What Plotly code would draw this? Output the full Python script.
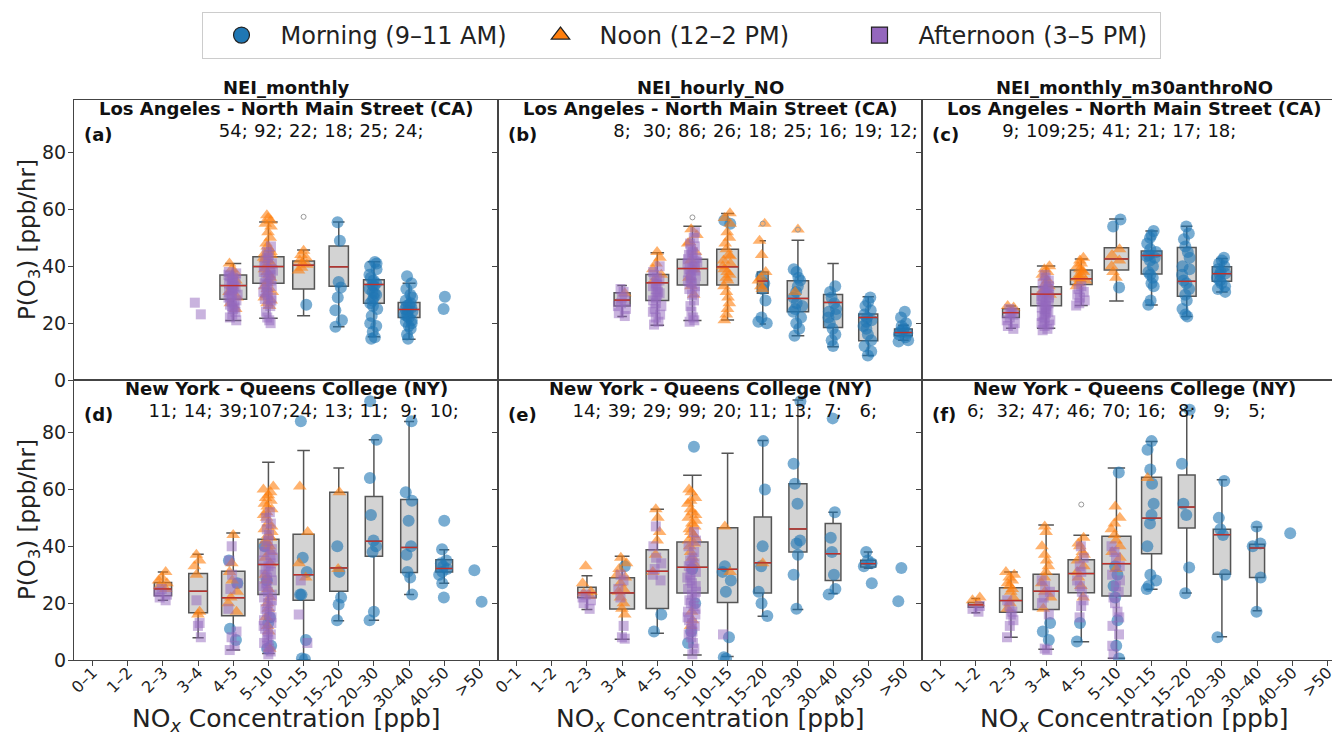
import plotly.graph_objects as go
from plotly.subplots import make_subplots

# ---------------- data ----------------
CATEGORIES = ["0–1", "1–2", "2–3", "3–4", "4–5", "5–10", "10–15", "15–20",
              "20–30", "30–40", "40–50", ">50"]
SCENARIOS = ["NEI_monthly", "NEI_hourly_NO", "NEI_monthly_m30anthroNO"]
SITES = ["Los Angeles - North Main Street (CA)", "New York - Queens College (NY)"]
PANEL_LETTERS = ["(a)", "(b)", "(c)", "(d)", "(e)", "(f)"]
GROUP_NAMES = ["Morning (9–11 AM)", "Noon (12–2 PM)", "Afternoon (3–5 PM)"]
X_TITLE = "NO<sub><i>x</i></sub> Concentration [ppb]"
Y_TITLE = "P(O<sub>3</sub>) [ppb/hr]"
Y_TICKS = [0, 20, 40, 60, 80]

# box statistics: (category, lower whisker, q1, median, q3, upper whisker, n)
BOX_A = [("4–5", 20.9, 28.4, 33.2, 36.9, 41.0, 54), ("5–10", 21.7, 34.0, 39.9, 43.4, 55.6, 92),
         ("10–15", 22.6, 32.0, 40.4, 41.9, 45.7, 22), ("15–20", 18.7, 33.0, 39.8, 47.1, 55.6, 18),
         ("20–30", 15.2, 27.0, 33.6, 35.3, 41.6, 25), ("30–40", 14.3, 22.0, 24.8, 27.3, 34.0, 24)]
BOX_B = [("3–4", 22.3, 26.0, 28.1, 30.7, 33.2, 8), ("4–5", 19.3, 28.0, 34.2, 37.1, 44.8, 30),
         ("5–10", 20.9, 33.4, 39.2, 42.5, 54.1, 86), ("10–15", 21.1, 33.4, 39.8, 46.0, 58.6, 26),
         ("15–20", 19.7, 30.5, 34.8, 38.0, 49.0, 18), ("20–30", 15.6, 24.0, 28.7, 34.9, 49.2, 25),
         ("30–40", 11.7, 18.5, 27.3, 30.1, 41.0, 16), ("40–50", 8.6, 13.8, 22.0, 23.2, 29.3, 19),
         (">50", 14.0, 15.6, 16.7, 17.9, 19.3, 12)]
BOX_C = [("2–3", 18.2, 22.0, 23.7, 25.1, 26.0, 9), ("3–4", 18.2, 26.1, 30.2, 32.8, 40.1, 109),
         ("4–5", 26.2, 33.6, 35.6, 38.7, 42.6, 25), ("5–10", 27.8, 38.7, 42.6, 46.5, 56.6, 41),
         ("10–15", 26.4, 37.3, 43.8, 45.4, 52.4, 21), ("15–20", 22.3, 29.5, 34.7, 46.6, 54.1, 17),
         ("20–30", 31.0, 34.7, 37.4, 39.8, 42.7, 18)]
BOX_D = [("2–3", 21.0, 22.6, 25.0, 27.3, 31.0, 11), ("3–4", 7.8, 16.6, 24.2, 30.4, 37.2, 14),
         ("4–5", 3.5, 15.6, 21.9, 31.2, 44.7, 39), ("5–10", 2.3, 23.0, 33.6, 42.5, 69.6, 107),
         ("10–15", 0.0, 21.0, 30.0, 44.2, 73.7, 24), ("15–20", 13.8, 24.2, 32.4, 59.0, 67.5, 13),
         ("20–30", 14.0, 36.5, 41.8, 57.5, 77.5, 11), ("30–40", 23.0, 30.8, 39.6, 56.5, 83.9, 9),
         ("40–50", 27.0, 31.0, 32.2, 35.3, 38.8, 10)]
BOX_E = [("2–3", 17.8, 21.9, 23.7, 25.6, 29.6, 14), ("3–4", 7.3, 17.9, 23.6, 28.9, 36.5, 39),
         ("4–5", 9.4, 18.1, 31.2, 38.8, 53.0, 29), ("5–10", 1.8, 23.6, 32.6, 41.5, 65.0, 99),
         ("10–15", 1.2, 20.2, 31.9, 46.5, 72.7, 20), ("15–20", 15.4, 23.6, 34.2, 50.3, 77.2, 11),
         ("20–30", 17.8, 38.0, 46.1, 62.0, 91.5, 13), ("30–40", 23.4, 28.0, 37.4, 48.0, 52.0, 7),
         ("40–50", 32.3, 32.7, 33.9, 35.1, 38.0, 6)]
BOX_F = [("1–2", 16.6, 18.6, 19.4, 20.2, 21.6, 6), ("2–3", 8.0, 16.8, 20.9, 25.4, 31.0, 32),
         ("3–4", 3.8, 17.8, 24.2, 30.2, 47.5, 47), ("4–5", 6.4, 23.7, 30.4, 35.3, 43.9, 46),
         ("5–10", 0.6, 22.5, 33.9, 43.5, 67.5, 70), ("10–15", 24.9, 37.4, 49.9, 64.3, 76.9, 16),
         ("15–20", 23.6, 46.4, 53.8, 65.1, 87.7, 8), ("20–30", 8.2, 30.2, 44.1, 46.0, 63.4, 9),
         ("30–40", 17.3, 29.0, 39.4, 40.7, 46.8, 5)]

# individual observations per time-of-day group: (category, values)
MORNING_A = [("10–15", [26.5]),
             ("15–20", [55.5, 49, 34.5, 32.5, 29, 24.5, 21, 18.7]),
             ("20–30", [41.5, 41, 40, 39, 37, 36, 35, 34, 33.5, 33, 32, 31, 30, 29, 28, 27, 26, 25,
                        22.5, 20, 19, 17, 15, 14.5, 30.5]),
             ("30–40", [36.5, 34, 32, 30, 29, 28, 27, 26, 25.5, 25, 24.5, 24, 23, 22, 21, 20.5, 20,
                        19, 18, 14.5, 26.5, 23.5, 22.5, 16]),
             ("40–50", [29.3, 25])]
NOON_A = [("4–5", [41, 39, 37, 35, 33, 31, 29, 27, 25, 38]),
          ("5–10", [58, 57, 56, 55, 54, 52, 50, 48, 47, 46, 45, 44, 43, 42, 41, 40, 39, 38, 37,
                    36, 35, 34, 33, 32, 31, 30, 29, 28, 27, 26, 44.5, 42.5, 40.5]),
          ("10–15", [45.5, 44, 43, 42, 41, 40.5, 39.5, 38.5])]
AFTERNOON_A = [("3–4", [27.2, 23.1]),
               ("4–5", [21, 22, 23, 24, 25, 26, 27, 28, 29, 30, 31, 31.5, 32, 33, 33.5, 34, 34.5,
                        35, 36, 36.5, 37, 38, 29.5, 27.5, 26.5, 25.5, 30.5, 32.5, 35.5, 37.5]),
               ("5–10", [20, 21, 22, 24, 26, 27, 28, 29, 30, 31, 32, 33, 34, 35, 36, 37, 38, 39,
                         40, 41, 42, 43, 44, 45, 47, 30.5, 33.5, 36.5, 38.5, 28.5])]

MORNING_B = [("10–15", [56.2, 55]),
             ("15–20", [36.5, 34, 32, 28, 22, 20, 20.5]),
             ("20–30", [39, 38, 36, 35, 31, 29, 27, 25, 24, 22, 20, 18, 15.6, 33, 26]),
             ("30–40", [33, 31, 29, 27, 25, 23, 22, 20, 18, 16, 14, 12, 24]),
             ("40–50", [29, 27.5, 26, 24.5, 23, 22, 20.5, 18, 16, 14, 12, 10, 8.6, 21, 19]),
             (">50", [24, 22, 20, 19, 18, 17.5, 17, 16.5, 16, 15, 14, 13.5])]
NOON_B = [("3–4", [30.5]),
          ("4–5", [45, 43, 41, 39, 37, 35]),
          ("5–10", [53, 51, 48, 45, 42, 39, 36, 33, 30, 48.5]),
          ("10–15", [58.7, 57, 55, 52, 50, 48, 46, 44, 42, 40, 39, 38, 37, 35, 33, 31, 29, 27,
                     25, 23, 21, 41, 43.5, 36]),
          ("15–20", [55, 49, 44, 38, 36, 35, 33, 32]),
          ("20–30", [52.9, 31])]
AFTERNOON_B = [("3–4", [22.5, 23.5, 25, 26, 27, 28, 29, 31, 32]),
               ("4–5", [19.5, 20.5, 22, 23, 25, 26, 27, 28, 29, 30, 31, 32, 33, 34, 35, 36, 37,
                        38, 40, 24, 30.5, 33.5]),
               ("5–10", [20.5, 21, 22, 24, 26, 28, 30, 31, 32, 33, 34, 35, 36, 37, 38, 39, 40, 41,
                         42, 43, 44, 45, 46, 47, 48, 50, 52, 36.5, 38.5, 41.5, 44.5, 34.5, 39.5,
                         42.5])]

MORNING_C = [("5–10", [56.5, 54, 32.5]),
             ("10–15", [52.4, 51, 50, 48, 46, 45, 44, 43.5, 43, 42, 40, 38, 37, 36, 34, 33, 28,
                        26.5]),
             ("15–20", [54, 51.5, 49.5, 47, 45, 43, 40, 39, 37, 35, 34, 32, 30, 28, 25, 22.3, 23]),
             ("20–30", [43, 42, 41, 40, 39, 38, 37.5, 37, 36, 35, 34, 33, 32, 31])]
NOON_C = [("2–3", [25.5, 26]),
          ("3–4", [40, 39, 38, 37, 36, 35, 34, 33, 32, 31, 30]),
          ("4–5", [43, 42, 41, 40, 39, 38, 37, 36, 35, 34, 33, 38.5, 36.5, 35.5]),
          ("5–10", [46, 44, 42, 40, 38, 36])]
AFTERNOON_C = [("2–3", [18, 19, 20, 21, 22, 23, 23.5, 24, 25]),
               ("3–4", [17.5, 18, 19, 20, 21, 22, 23, 24, 25, 26, 27, 28, 29, 30, 31, 32, 33, 34,
                        35, 36, 37, 20.5, 22.5, 24.5, 26.5, 28.5, 30.5, 32.5, 27.5, 25.5, 29.5,
                        31.5, 19.5, 23.5]),
               ("4–5", [26.2, 27, 28, 29, 30, 31, 32, 33])]

MORNING_D = [("4–5", [35, 27, 11, 7]),
             ("5–10", [40, 28, 15, 13, 5, 4]),
             ("10–15", [84, 36, 31, 23, 23, 7, 0.5, 0.3]),
             ("15–20", [40, 31, 22, 19.5, 14]),
             ("20–30", [91, 77.5, 64, 51, 42, 40, 38, 17, 14]),
             ("30–40", [84, 59, 56, 49, 40, 37, 31, 29, 23]),
             ("40–50", [49, 39, 35, 34, 33, 31, 30, 27, 22, 32]),
             (">50", [31.6, 20.5])]
NOON_D = [("2–3", [31, 29, 28, 27, 26, 25]),
          ("3–4", [37, 35, 33, 30, 17, 16]),
          ("4–5", [44, 34, 31, 28, 24, 22, 20, 17]),
          ("5–10", [61, 60, 59, 58, 57, 56, 55, 54, 53, 52, 51, 50, 48, 47, 46, 45, 44, 43, 42,
                    41, 40, 38, 36, 34, 30, 28, 25, 22, 20, 18, 15, 12, 10, 4]),
          ("10–15", [61, 45, 34, 29]),
          ("15–20", [59, 32])]
AFTERNOON_D = [("2–3", [21, 22, 23, 24, 25]),
               ("3–4", [21, 13, 12, 8]),
               ("4–5", [40, 35, 30, 27, 18, 10, 8, 5, 3.5, 25]),
               ("5–10", [52, 50, 48, 46, 44, 42, 40, 39, 38, 37, 36, 35, 34, 33, 32, 31, 30, 29,
                         28, 27, 26, 25, 24, 23, 22, 21, 20, 19, 18, 17, 16, 15, 14, 13, 12, 11,
                         10, 9, 8, 7, 6, 5, 4, 3, 2]),
               ("10–15", [28, 16, 6])]

MORNING_E = [("3–4", [33]),
             ("4–5", [16, 10]),
             ("5–10", [75, 32, 20, 6, 10]),
             ("10–15", [33, 31, 28, 24, 8, 1, 0.5]),
             ("15–20", [77, 60, 40, 33, 24, 20, 15.5]),
             ("20–30", [91, 69, 62, 55, 42, 41, 37, 30, 18]),
             ("30–40", [85, 52, 43, 38, 30, 25, 23]),
             ("40–50", [38, 35, 34, 33, 27]),
             (">50", [32.4, 20.7])]
NOON_E = [("2–3", [33, 27, 24, 23.5, 22.5]),
          ("3–4", [36, 34, 32, 29, 27, 25, 22, 20, 18, 16, 30, 24]),
          ("4–5", [53, 50, 45, 42, 37, 31]),
          ("5–10", [60, 59, 57, 55, 53, 51, 50, 49, 48, 47, 46, 45, 44, 43, 42, 41, 40, 38, 36,
                    34, 17, 14, 12, 56, 52]),
          ("10–15", [47, 31]),
          ("15–20", [34])]
AFTERNOON_E = [("2–3", [23, 21, 20, 18, 22]),
               ("3–4", [30, 28, 22, 12, 8, 7.5, 25]),
               ("4–5", [47, 40, 34, 32, 30, 28, 36]),
               ("5–10", [45, 42, 40, 38, 36, 34, 32, 31, 30, 29, 28, 27, 26, 25, 24, 23, 22, 21,
                         20, 19, 18, 17, 16, 15, 14, 13, 12, 11, 10, 9, 8, 6, 4, 2, 35, 33]),
               ("10–15", [9])]

MORNING_F = [("3–4", [13, 10, 7]),
             ("4–5", [6.5, 13]),
             ("5–10", [66, 33, 26, 14, 5, 0.5, 30, 22]),
             ("10–15", [77, 74, 67, 62, 55, 51, 48, 40, 30, 28, 26, 25]),
             ("15–20", [88, 69, 55, 51, 32.5, 23.5]),
             ("20–30", [63, 50, 46, 44, 30, 8]),
             ("30–40", [47, 41, 40, 29, 17]),
             ("40–50", [44.6])]
NOON_F = [("1–2", [22, 20, 21]),
          ("2–3", [31, 30, 28, 26, 24, 22, 20, 18, 29, 27, 25]),
          ("3–4", [47, 45, 40, 37, 35, 31, 27, 24, 22, 18, 33, 29]),
          ("4–5", [43, 40, 37, 35, 33, 31, 29, 26, 22, 41, 38]),
          ("5–10", [54, 50, 46, 42, 40, 38, 36, 32, 44, 48]),
          ("10–15", [64])]
AFTERNOON_F = [("1–2", [19, 17, 18]),
               ("2–3", [19, 17, 14, 12, 8, 16, 21]),
               ("3–4", [28, 24, 22, 16, 4, 3.5, 26, 20]),
               ("4–5", [40, 36, 31, 28, 24, 19, 15, 33, 26, 21]),
               ("5–10", [40, 36, 30, 26, 22, 17, 12, 9, 5, 2, 38, 33, 28, 24, 20, 15])]

# flier points (outside whiskers, no group)
OUTLIERS_A = [("10–15", [57.4])]
OUTLIERS_B = [("5–10", [57.2]), ("15–20", [55.0]), ("20–30", [52.9])]
OUTLIERS_C = []
OUTLIERS_D = []
OUTLIERS_E = []
OUTLIERS_F = [("4–5", [54.7])]

# ---------------- styles ----------------
BOX_WIDTH_PX_A = [26.7, 31, 21.7, 19.3, 20.7, 21.7]
BOX_WIDTH_PX_B = [16, 22.7, 30.3, 21.7, 10.7, 21.3, 19, 19, 17.7]
BOX_WIDTH_PX_C = [16.7, 30.7, 21.7, 24.3, 20.7, 18.7, 19.3]
BOX_WIDTH_PX_D = [17.3, 18.7, 23.3, 21, 21, 18, 17.3, 16.7, 16.7]
BOX_WIDTH_PX_E = [18.3, 24.7, 22.3, 31, 20.3, 17.3, 18, 15.7, 15]
BOX_WIDTH_PX_F = [15, 22.7, 26, 26.3, 29, 20, 16.7, 17.3, 15]
PX_PER_CAT = 35.16

FONT = "DejaVu Sans"
COLORS = ["#1f77b4", "#ff7f0e", "#9467bd"]
SYMBOLS = ["circle", "triangle-up", "square"]
SIZES = [12, 12, 10]
OPACITIES = [0.6, 0.6, 0.5]

PANELS = [
    (BOX_A, BOX_WIDTH_PX_A, [MORNING_A, NOON_A, AFTERNOON_A], OUTLIERS_A),
    (BOX_B, BOX_WIDTH_PX_B, [MORNING_B, NOON_B, AFTERNOON_B], OUTLIERS_B),
    (BOX_C, BOX_WIDTH_PX_C, [MORNING_C, NOON_C, AFTERNOON_C], OUTLIERS_C),
    (BOX_D, BOX_WIDTH_PX_D, [MORNING_D, NOON_D, AFTERNOON_D], OUTLIERS_D),
    (BOX_E, BOX_WIDTH_PX_E, [MORNING_E, NOON_E, AFTERNOON_E], OUTLIERS_E),
    (BOX_F, BOX_WIDTH_PX_F, [MORNING_F, NOON_F, AFTERNOON_F], OUTLIERS_F),
]

# page body has an 8px default margin: size the figure so it fills the window exactly
W, H = 1332, 728
ML, MR, MT, MB = 66, 0, 92, 76
PLOT_W = W - ML - MR
PLOT_H = H - MT - MB
COL_PX = 424

fig = make_subplots(rows=2, cols=3, horizontal_spacing=0, vertical_spacing=0)

cidx = {c: i for i, c in enumerate(CATEGORIES)}

for k, (boxes, widths_px, groups, outliers) in enumerate(PANELS):
    row, col = k // 3 + 1, k % 3 + 1
    med_x, med_y = [], []
    for (cat, lo, q1, med, q3, hi, n), wpx in zip(boxes, widths_px):
        x = cidx[cat]
        w = wpx / PX_PER_CAT
        fig.add_trace(go.Box(
            x=[x], q1=[q1], median=[med], q3=[q3], lowerfence=[lo], upperfence=[hi],
            width=w, whiskerwidth=0.6, fillcolor="#d3d3d3",
            line=dict(color="#555555", width=1.5), boxpoints=False,
            showlegend=False, hoverinfo="skip"), row=row, col=col)
        med_x += [x - w / 2, x + w / 2, None]
        med_y += [med, med, None]
    fig.add_trace(go.Scatter(x=med_x, y=med_y, mode="lines",
                             line=dict(color="#c0302b", width=1.4),
                             showlegend=False, hoverinfo="skip"), row=row, col=col)
    if outliers:
        ox, oy = [], []
        for cat, vals in outliers:
            ox += [cidx[cat]] * len(vals)
            oy += vals
        fig.add_trace(go.Scatter(x=ox, y=oy, mode="markers",
                                 marker=dict(symbol="circle-open", size=5, color="#999999",
                                             line=dict(width=1)),
                                 showlegend=False, hoverinfo="skip"), row=row, col=col)
    for g, data in enumerate(groups):
        xs, ys = [], []
        for cat, vals in data:
            xs += [cidx[cat]] * len(vals)
            ys += vals
        fig.add_trace(go.Box(
            x=xs, y=ys, boxpoints="all", jitter=0.7, pointpos=0, width=0.42,
            fillcolor="rgba(0,0,0,0)", line=dict(color="rgba(0,0,0,0)", width=0),
            marker=dict(color=COLORS[g], symbol=SYMBOLS[g], size=SIZES[g],
                        opacity=OPACITIES[g], line=dict(width=0)),
            showlegend=False, hoverinfo="skip"), row=row, col=col)
    fig.add_trace(go.Scatter(
        x=[cidx[b[0]] for b in boxes], y=[87] * len(boxes),
        text=[f"{b[6]};" for b in boxes], mode="text",
        textfont=dict(family=FONT, size=18, color="#111111"),
        showlegend=False, hoverinfo="skip"), row=row, col=col)

for g in range(3):
    fig.add_trace(go.Scatter(
        x=[None], y=[None], mode="markers", name=GROUP_NAMES[g],
        marker=dict(color=COLORS[g], symbol=SYMBOLS[g], size=20,
                    line=dict(color="#222222", width=1.2))))

col_domains = []
for c in range(3):
    x0 = (c * COL_PX) / PLOT_W
    x1 = min(1.0, ((c + 1) * COL_PX) / PLOT_W)
    col_domains.append([x0, x1])

for k in range(6):
    row, col = k // 3 + 1, k % 3 + 1
    axn = "" if k == 0 else str(k + 1)
    xd = col_domains[col - 1]
    width_px = (xd[1] - xd[0]) * PLOT_W
    xr = [-0.53, -0.53 + width_px / PX_PER_CAT]
    fig.layout["xaxis" + axn].update(
        domain=xd, range=xr, tickmode="array", tickvals=list(range(len(CATEGORIES))),
        ticktext=CATEGORIES, tickangle=-45, showticklabels=(row == 2),
        ticks="outside" if row == 2 else "", ticklen=5, tickcolor="#444",
        tickfont=dict(family=FONT, size=16, color="#222"), ticklabelstandoff=-9,
        showline=True, mirror=True, linecolor="#444", linewidth=1,
        showgrid=False, zeroline=False, automargin=False)
    yd = [0.5, 1.0] if row == 1 else [0.0, 0.5]
    fig.layout["yaxis" + axn].update(
        domain=yd, range=[0, 98.5], tickmode="array", tickvals=Y_TICKS,
        showticklabels=(col == 1), ticks="outside", ticklen=5, tickcolor="#444",
        tickfont=dict(family=FONT, size=19, color="#222"), ticklabelstandoff=-2,
        showline=True, mirror=(col != 3), linecolor="#444", linewidth=1,
        showgrid=False, zeroline=False, automargin=False)

annotations = []
for c in range(3):
    axn = "" if c == 0 else str(c + 1)
    xc = 0.5 * COL_PX / ((col_domains[c][1] - col_domains[c][0]) * PLOT_W)
    annotations.append(dict(text=f"<b>{SCENARIOS[c]}</b>", xref=f"x{axn} domain",
                            yref="paper", x=xc, y=1.0, yanchor="bottom", yshift=0,
                            showarrow=False, font=dict(family=FONT, size=18, color="#111")))
    annotations.append(dict(text=X_TITLE, xref=f"x{c + 4} domain", yref="paper",
                            x=xc, y=-60 / PLOT_H, yanchor="middle",
                            showarrow=False, font=dict(family=FONT, size=25, color="#222")))
for r in range(2):
    annotations.append(dict(text=Y_TITLE, xref="paper", yref="paper", x=-45 / PLOT_W,
                            y=0.75 - 0.5 * r, xanchor="center", yanchor="middle", textangle=-90,
                            showarrow=False, font=dict(family=FONT, size=23, color="#222")))
for k in range(6):
    row = k // 3
    col = k % 3
    axn = "" if k == 0 else str(k + 1)
    xc = 0.5 * COL_PX / ((col_domains[col][1] - col_domains[col][0]) * PLOT_W)
    annotations.append(dict(text=f"<b>{SITES[row]}</b>", xref=f"x{axn} domain",
                            yref=f"y{axn} domain", x=xc, y=1.0, yanchor="middle", yshift=-8,
                            showarrow=False, font=dict(family=FONT, size=18, color="#111")))
    annotations.append(dict(text=f"<b>{PANEL_LETTERS[k]}</b>", xref=f"x{axn} domain",
                            yref=f"y{axn} domain", x=0.02, xanchor="left", y=1.0,
                            yanchor="middle", yshift=-34,
                            showarrow=False, font=dict(family=FONT, size=18, color="#111")))

fig.update_layout(
    width=W, height=H, margin=dict(l=ML, r=MR, t=MT, b=MB, autoexpand=False),
    paper_bgcolor="white", plot_bgcolor="white", boxmode="overlay",
    annotations=annotations,
    legend=dict(orientation="h", xref="container", yref="container", x=673 / W, xanchor="center",
                y=1 - 4 / H, yanchor="top", font=dict(family=FONT, size=24, color="#222"),
                bordercolor="#cccccc", borderwidth=1, bgcolor="white", itemsizing="trace",
                itemwidth=68, entrywidth=236, entrywidthmode="pixels"),
    font=dict(family=FONT),
)

fig.write_html("out.html")
